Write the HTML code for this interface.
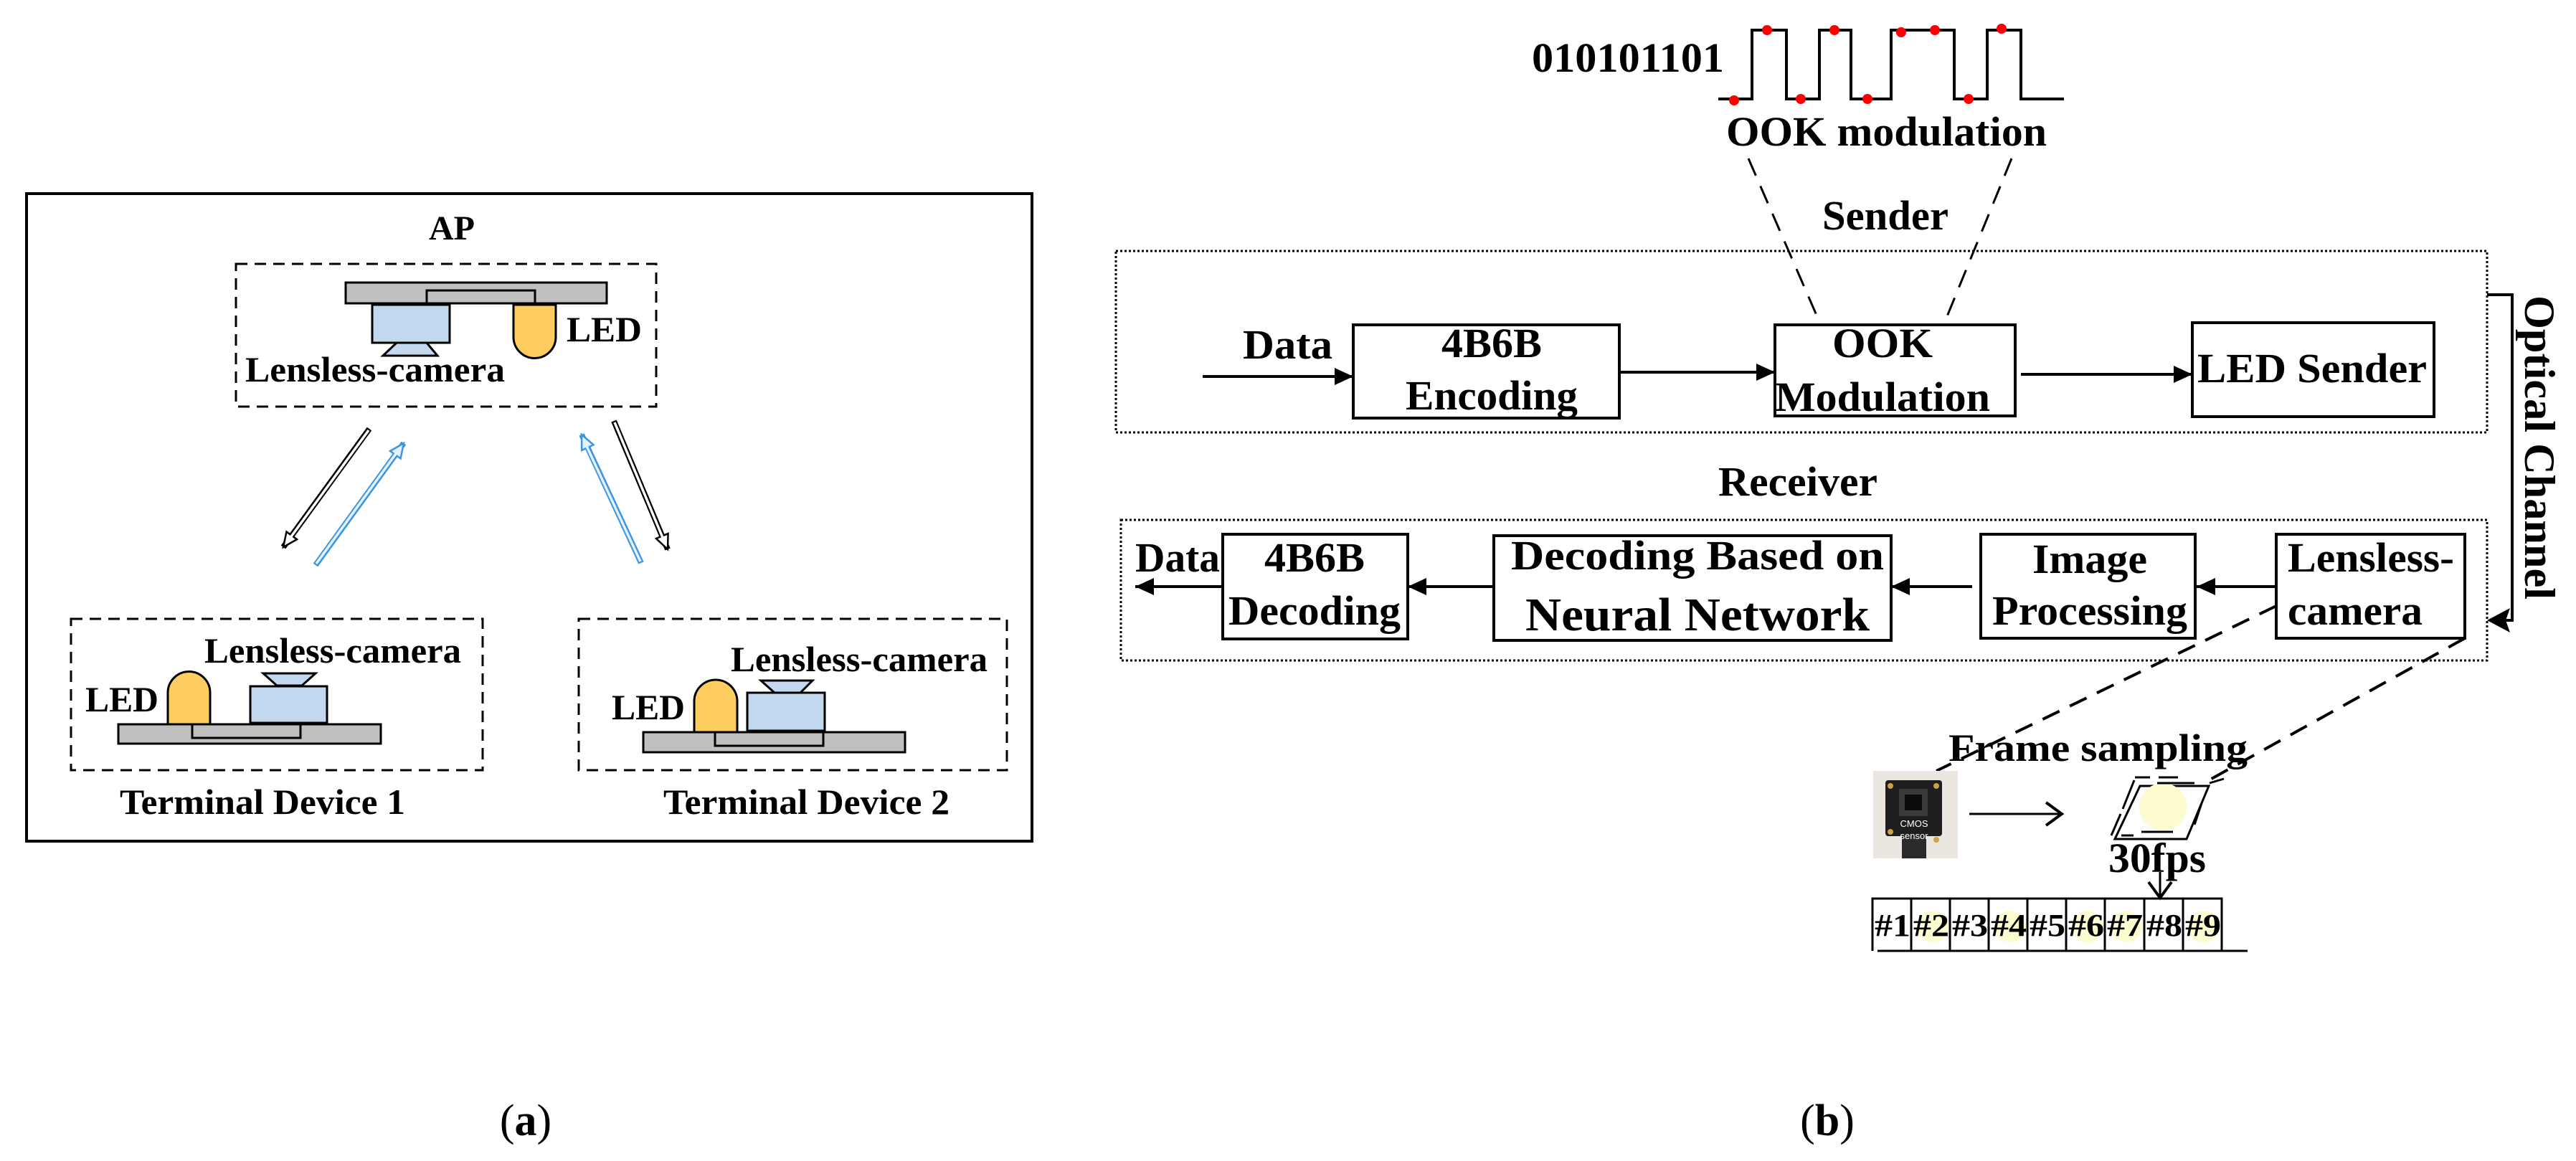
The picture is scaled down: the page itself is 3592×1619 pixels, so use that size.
<!DOCTYPE html>
<html><head><meta charset="utf-8"><style>
html,body{margin:0;padding:0;background:#fff;}
svg{display:block;}
text{font-family:"Liberation Serif",serif;font-weight:bold;fill:#000;}
</style></head><body>
<svg width="3592" height="1619" viewBox="0 0 3592 1619" xmlns="http://www.w3.org/2000/svg">
<defs>
<marker id="hb" markerUnits="userSpaceOnUse" markerWidth="30" markerHeight="30" refX="22" refY="11" orient="auto">
<path d="M2,2 L22,11 L2,20 z" fill="#fff" stroke="#000" stroke-width="2.5"/></marker>
<marker id="hu" markerUnits="userSpaceOnUse" markerWidth="30" markerHeight="30" refX="22" refY="11" orient="auto">
<path d="M2,2 L22,11 L2,20 z" fill="#e4f0fb" stroke="#3d95e0" stroke-width="2.5"/></marker>
<marker id="sa" markerUnits="userSpaceOnUse" markerWidth="30" markerHeight="30" refX="26" refY="12" orient="auto">
<path d="M0,0 L26,12 L0,24 z" fill="#000"/></marker>
<marker id="oa" markerUnits="userSpaceOnUse" markerWidth="30" markerHeight="40" refX="26" refY="18" orient="auto">
<path d="M4,2 L26,18 L4,34" fill="none" stroke="#000" stroke-width="4"/></marker>
</defs>

<!-- LEFT PANEL -->
<rect x="37" y="270" width="1402" height="903" fill="none" stroke="#000" stroke-width="4"/>
<text x="630" y="334" font-size="48" text-anchor="middle">AP</text>
<rect x="329" y="368" width="586" height="199" fill="none" stroke="#000" stroke-width="3" stroke-dasharray="16,10"/>
<rect x="482" y="394" width="364" height="29" fill="#c0c0c0" stroke="#000" stroke-width="3"/>
<rect x="595" y="405" width="151" height="18" fill="#c0c0c0" stroke="#000" stroke-width="3"/>
<rect x="519" y="425" width="108" height="53" fill="#c2d8ef" stroke="#000" stroke-width="3"/>
<path d="M553,478 L595,478 L610,496 L534,496 z" fill="#c2d8ef" stroke="#000" stroke-width="3"/>
<path d="M716,425 L775,425 L775,470 A29.5,29.5 0 0 1 716,470 z" fill="#fdce5f" stroke="#000" stroke-width="3"/>
<text x="790" y="476" font-size="50" textLength="105" lengthAdjust="spacingAndGlyphs">LED</text>
<text x="342" y="532" font-size="50" textLength="362" lengthAdjust="spacingAndGlyphs">Lensless-camera</text>

<!-- arrows -->
<line x1="515" y1="598" x2="395" y2="763" stroke="#000" stroke-width="8" marker-end="url(#hb)"/>
<line x1="514" y1="600" x2="404" y2="751" stroke="#fff" stroke-width="3.5"/>
<line x1="440" y1="788" x2="563" y2="618" stroke="#3d95e0" stroke-width="8" marker-end="url(#hu)"/>
<line x1="441" y1="786" x2="554" y2="630" stroke="#e4f0fb" stroke-width="3.5"/>
<line x1="894" y1="785" x2="811" y2="606" stroke="#3d95e0" stroke-width="8" marker-end="url(#hu)"/>
<line x1="893" y1="783" x2="817" y2="620" stroke="#e4f0fb" stroke-width="3.5"/>
<line x1="856" y1="587" x2="931" y2="766" stroke="#000" stroke-width="8" marker-end="url(#hb)"/>
<line x1="857" y1="589" x2="925" y2="752" stroke="#fff" stroke-width="3.5"/>

<!-- Terminal 1 -->
<rect x="99" y="863" width="574" height="211" fill="none" stroke="#000" stroke-width="3" stroke-dasharray="16,10"/>
<rect x="165" y="1010" width="366" height="27" fill="#c0c0c0" stroke="#000" stroke-width="3"/>
<rect x="268" y="1010" width="151" height="19" fill="#c0c0c0" stroke="#000" stroke-width="3"/>
<path d="M234,1010 L234,966 A29.5,29.5 0 0 1 293,966 L293,1010 z" fill="#fdce5f" stroke="#000" stroke-width="3"/>
<rect x="349" y="957" width="107" height="51" fill="#c2d8ef" stroke="#000" stroke-width="3"/>
<path d="M367,939 L440,939 L421,956 L386,956 z" fill="#c2d8ef" stroke="#000" stroke-width="3"/>
<text x="285" y="924" font-size="50" textLength="358" lengthAdjust="spacingAndGlyphs">Lensless-camera</text>
<text x="119" y="992" font-size="50" textLength="102" lengthAdjust="spacingAndGlyphs">LED</text>
<text x="167" y="1135" font-size="50" textLength="398" lengthAdjust="spacingAndGlyphs">Terminal Device 1</text>

<!-- Terminal 2 -->
<rect x="807" y="863" width="597" height="211" fill="none" stroke="#000" stroke-width="3" stroke-dasharray="16,10"/>
<rect x="897" y="1021" width="365" height="28" fill="#c0c0c0" stroke="#000" stroke-width="3"/>
<rect x="997" y="1021" width="151" height="19" fill="#c0c0c0" stroke="#000" stroke-width="3"/>
<path d="M968,1021 L968,978 A30,30 0 0 1 1028,978 L1028,1021 z" fill="#fdce5f" stroke="#000" stroke-width="3"/>
<rect x="1042" y="966" width="108" height="53" fill="#c2d8ef" stroke="#000" stroke-width="3"/>
<path d="M1061,949 L1133,949 L1116,966 L1080,966 z" fill="#c2d8ef" stroke="#000" stroke-width="3"/>
<text x="1019" y="936" font-size="50" textLength="358" lengthAdjust="spacingAndGlyphs">Lensless-camera</text>
<text x="853" y="1003" font-size="50" textLength="102" lengthAdjust="spacingAndGlyphs">LED</text>
<text x="925" y="1135" font-size="50" textLength="399" lengthAdjust="spacingAndGlyphs">Terminal Device 2</text>

<text x="733" y="1583" font-size="62" text-anchor="middle" style="font-weight:normal">(<tspan style="font-weight:bold">a</tspan>)</text>
<text x="2548" y="1583" font-size="62" text-anchor="middle" style="font-weight:normal">(<tspan style="font-weight:bold">b</tspan>)</text>

<!-- RIGHT PANEL -->
<text x="2136" y="100" font-size="58" textLength="268" lengthAdjust="spacingAndGlyphs">010101101</text>
<polyline points="2396,138 2443,138 2443,42 2491,42 2491,138 2537,138 2537,42 2581,42 2581,138 2637,138 2637,42 2725,42 2725,138 2771,138 2771,42 2818,42 2818,138 2878,138" fill="none" stroke="#000" stroke-width="4"/>
<g fill="#f00">
<circle cx="2418" cy="140" r="7"/><circle cx="2464" cy="42" r="7"/><circle cx="2511" cy="138" r="7"/>
<circle cx="2558" cy="42" r="7"/><circle cx="2604" cy="138" r="7"/><circle cx="2651" cy="45" r="7"/>
<circle cx="2698" cy="42" r="7"/><circle cx="2745" cy="138" r="7"/><circle cx="2791" cy="40" r="7"/>
</g>
<text x="2407" y="203" font-size="58" textLength="447" lengthAdjust="spacingAndGlyphs">OOK modulation</text>
<line x1="2438" y1="221" x2="2538" y2="451" stroke="#000" stroke-width="3" stroke-dasharray="26,16"/>
<line x1="2805" y1="221" x2="2711" y2="451" stroke="#000" stroke-width="3" stroke-dasharray="26,16"/>
<text x="2541" y="320" font-size="58" textLength="176" lengthAdjust="spacingAndGlyphs">Sender</text>

<rect x="1556" y="350" width="1912" height="253" fill="none" stroke="#000" stroke-width="3" stroke-dasharray="3,3"/>
<text x="1733" y="500" font-size="58" textLength="125" lengthAdjust="spacingAndGlyphs">Data</text>
<line x1="1677" y1="525" x2="1887" y2="525" stroke="#000" stroke-width="4" marker-end="url(#sa)"/>
<rect x="1887" y="453" width="371" height="130" fill="#fff" stroke="#000" stroke-width="4"/>
<text x="2080" y="498" font-size="58" text-anchor="middle" textLength="140" lengthAdjust="spacingAndGlyphs">4B6B</text>
<text x="2080" y="571" font-size="58" text-anchor="middle" textLength="240" lengthAdjust="spacingAndGlyphs">Encoding</text>
<line x1="2258" y1="519" x2="2475" y2="519" stroke="#000" stroke-width="4" marker-end="url(#sa)"/>
<rect x="2475" y="453" width="335" height="127" fill="#fff" stroke="#000" stroke-width="4"/>
<text x="2625" y="498" font-size="58" text-anchor="middle" textLength="140" lengthAdjust="spacingAndGlyphs">OOK</text>
<text x="2475" y="573" font-size="58" textLength="300" lengthAdjust="spacingAndGlyphs">Modulation</text>
<line x1="2818" y1="522" x2="3057" y2="522" stroke="#000" stroke-width="4" marker-end="url(#sa)"/>
<rect x="3057" y="450" width="337" height="131" fill="#fff" stroke="#000" stroke-width="4"/>
<text x="3224" y="533" font-size="58" text-anchor="middle" textLength="320" lengthAdjust="spacingAndGlyphs">LED Sender</text>

<polyline points="3468,411 3503,411 3503,865 3485,865" fill="none" stroke="#000" stroke-width="4"/>
<path d="M3468,865 L3500,848 L3494,865 L3500,882 z" fill="#000"/>
<text transform="translate(3521,624) rotate(90)" font-size="60" text-anchor="middle" textLength="424" lengthAdjust="spacingAndGlyphs">Optical Channel</text>

<text x="2396" y="691" font-size="58" textLength="222" lengthAdjust="spacingAndGlyphs">Receiver</text>
<rect x="1563" y="725" width="1905" height="196" fill="none" stroke="#000" stroke-width="3" stroke-dasharray="3,3"/>
<text x="1583" y="797" font-size="58" textLength="118" lengthAdjust="spacingAndGlyphs">Data</text>
<line x1="1705" y1="818" x2="1583" y2="818" stroke="#000" stroke-width="4" marker-end="url(#sa)"/>
<rect x="1705" y="745" width="258" height="146" fill="#fff" stroke="#000" stroke-width="4"/>
<text x="1833" y="797" font-size="58" text-anchor="middle" textLength="140" lengthAdjust="spacingAndGlyphs">4B6B</text>
<text x="1833" y="871" font-size="58" text-anchor="middle" textLength="240" lengthAdjust="spacingAndGlyphs">Decoding</text>
<line x1="2083" y1="818" x2="1963" y2="818" stroke="#000" stroke-width="4" marker-end="url(#sa)"/>
<rect x="2083" y="747" width="554" height="146" fill="#fff" stroke="#000" stroke-width="4"/>
<text x="2107" y="794" font-size="58" textLength="520" lengthAdjust="spacingAndGlyphs">Decoding Based on</text>
<text x="2127" y="879" font-size="66" textLength="480" lengthAdjust="spacingAndGlyphs">Neural Network</text>
<line x1="2750" y1="818" x2="2637" y2="818" stroke="#000" stroke-width="4" marker-end="url(#sa)"/>
<rect x="2762" y="745" width="299" height="145" fill="#fff" stroke="#000" stroke-width="4"/>
<text x="2914" y="799" font-size="58" text-anchor="middle" textLength="160" lengthAdjust="spacingAndGlyphs">Image</text>
<text x="2914" y="871" font-size="58" text-anchor="middle" textLength="272" lengthAdjust="spacingAndGlyphs">Processing</text>
<line x1="3174" y1="818" x2="3063" y2="818" stroke="#000" stroke-width="4" marker-end="url(#sa)"/>
<rect x="3174" y="745" width="263" height="145" fill="#fff" stroke="#000" stroke-width="4"/>
<text x="3190" y="797" font-size="58" textLength="232" lengthAdjust="spacingAndGlyphs">Lensless-</text>
<text x="3190" y="871" font-size="58" textLength="188" lengthAdjust="spacingAndGlyphs">camera</text>

<line x1="3174" y1="845" x2="2700" y2="1075" stroke="#000" stroke-width="4" stroke-dasharray="26,16"/>
<line x1="3437" y1="890" x2="3080" y2="1088" stroke="#000" stroke-width="4" stroke-dasharray="26,16"/>
<text x="2717" y="1061" font-size="54" textLength="417" lengthAdjust="spacingAndGlyphs">Frame sampling</text>

<!-- camera photo -->
<rect x="2612" y="1075" width="118" height="122" fill="#ece6e0"/>
<rect x="2629" y="1088" width="79" height="78" fill="#1e1e1e" rx="4"/>
<rect x="2648" y="1100" width="40" height="38" fill="#3a3a3a"/>
<rect x="2656" y="1108" width="24" height="22" fill="#0c0c0c"/>
<rect x="2652" y="1166" width="34" height="31" fill="#2a2a2a"/>
<circle cx="2636" cy="1096" r="4" fill="#c9a24a"/><circle cx="2700" cy="1096" r="4" fill="#c9a24a"/>
<circle cx="2636" cy="1160" r="4" fill="#c9a24a"/><circle cx="2700" cy="1171" r="4" fill="#c9a24a"/>
<text x="2669" y="1153" font-size="13" text-anchor="middle" style="font-family:'Liberation Sans',sans-serif;font-weight:normal;fill:#fff">CMOS</text>
<text x="2669" y="1170" font-size="13" text-anchor="middle" style="font-family:'Liberation Sans',sans-serif;font-weight:normal;fill:#fff">sensor</text>
<line x1="2746" y1="1135" x2="2875" y2="1135" stroke="#000" stroke-width="3" marker-end="url(#oa)"/>

<!-- frame icon -->
<path d="M2949,1170 L3049,1170 L3080,1096 L2984,1096 z" fill="none" stroke="#000" stroke-width="3"/>
<circle cx="3016" cy="1125" r="33" fill="#fdfbd0"/>
<g stroke="#000" stroke-width="3">
<line x1="2976" y1="1088" x2="2960" y2="1128"/><line x1="2957" y1="1135" x2="2944" y2="1165"/>
<line x1="2977" y1="1084" x2="2998" y2="1084"/><line x1="3010" y1="1084" x2="3037" y2="1084"/>
<line x1="3008" y1="1092" x2="3060" y2="1092"/><line x1="3081" y1="1092" x2="3101" y2="1086"/>
<line x1="2986" y1="1160" x2="3030" y2="1160"/><line x1="2958" y1="1165" x2="2975" y2="1165"/>
<line x1="3070" y1="1120" x2="3060" y2="1150"/>
</g>
<text x="2940" y="1216" font-size="58" textLength="136" lengthAdjust="spacingAndGlyphs">30fps</text>
<line x1="3012" y1="1216" x2="3012" y2="1252" stroke="#000" stroke-width="3" marker-end="url(#oa)"/>

<!-- frames -->
<g fill="#fdfbd0">
<circle cx="2695" cy="1292" r="22"/><circle cx="2803" cy="1292" r="22"/><circle cx="2911" cy="1292" r="22"/>
<circle cx="2965" cy="1292" r="22"/><circle cx="3073" cy="1292" r="22"/>
</g>
<g stroke="#000" stroke-width="3" fill="none">
<polyline points="2611,1326 2611,1253 3098,1253 3098,1326"/>
<line x1="2618" y1="1326" x2="3134" y2="1326"/>
<line x1="2665" y1="1253" x2="2665" y2="1326"/><line x1="2719" y1="1253" x2="2719" y2="1326"/>
<line x1="2773" y1="1253" x2="2773" y2="1326"/><line x1="2827" y1="1253" x2="2827" y2="1326"/>
<line x1="2881" y1="1253" x2="2881" y2="1326"/><line x1="2935" y1="1253" x2="2935" y2="1326"/>
<line x1="2990" y1="1253" x2="2990" y2="1326"/><line x1="3044" y1="1253" x2="3044" y2="1326"/>
</g>
<g font-size="44">
<text x="2614" y="1305" textLength="50" lengthAdjust="spacingAndGlyphs">#1</text>
<text x="2668" y="1305" textLength="50" lengthAdjust="spacingAndGlyphs">#2</text>
<text x="2722" y="1305" textLength="50" lengthAdjust="spacingAndGlyphs">#3</text>
<text x="2776" y="1305" textLength="50" lengthAdjust="spacingAndGlyphs">#4</text>
<text x="2830" y="1305" textLength="50" lengthAdjust="spacingAndGlyphs">#5</text>
<text x="2884" y="1305" textLength="50" lengthAdjust="spacingAndGlyphs">#6</text>
<text x="2938" y="1305" textLength="50" lengthAdjust="spacingAndGlyphs">#7</text>
<text x="2993" y="1305" textLength="50" lengthAdjust="spacingAndGlyphs">#8</text>
<text x="3047" y="1305" textLength="50" lengthAdjust="spacingAndGlyphs">#9</text>
</g>
</svg>
</body></html>
